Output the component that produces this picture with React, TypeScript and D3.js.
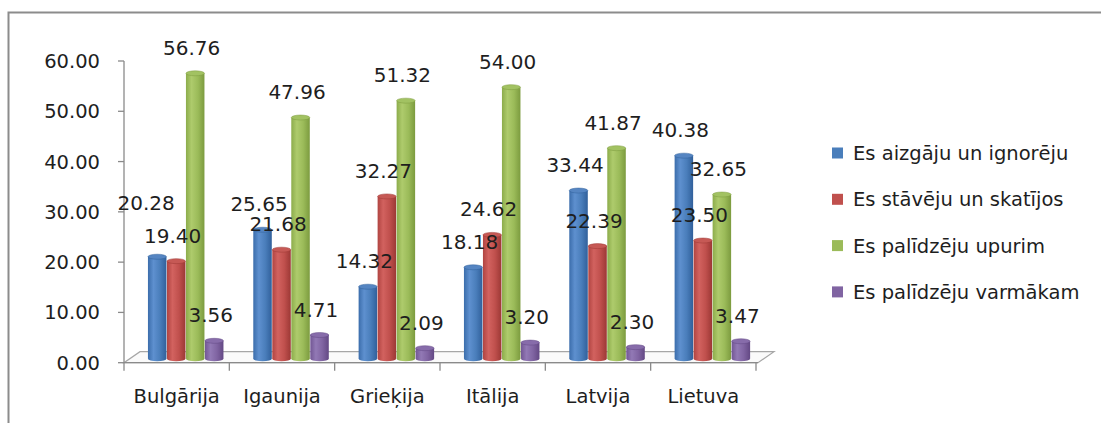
import React from "react";
import * as d3 from "d3";

const categories = ["Bulgārija", "Igaunija", "Grieķija", "Itālija", "Latvija", "Lietuva"];
const seriesNames = [
  "Es aizgāju un ignorēju",
  "Es stāvēju un skatījos",
  "Es palīdzēju upurim",
  "Es palīdzēju varmākam",
];
const aizgaju = [20.28, 25.65, 14.32, 18.18, 33.44, 40.38];
const staveju = [19.4, 21.68, 32.27, 24.62, 22.39, 23.5];
const palidzejuUpurim = [56.76, 47.96, 51.32, 54.0, 41.87, 32.65];
const palidzejuVarmakam = [3.56, 4.71, 2.09, 3.2, 2.3, 3.47];
const yTicks = [0, 10, 20, 30, 40, 50, 60];

const seriesValues = [aizgaju, staveju, palidzejuUpurim, palidzejuVarmakam];
const colors = [
  { base: "#4a7ebb", edge: "#3b6dab", dark: "#31609b", light: "#5e90cf", top: "#5585c2" },
  { base: "#c0504d", edge: "#b04441", dark: "#9c3835", light: "#d2625f", top: "#c65955" },
  { base: "#9bbb59", edge: "#8cac4b", dark: "#7c9b3f", light: "#aecb6c", top: "#a2c262" },
  { base: "#8064a2", edge: "#725694", dark: "#634884", light: "#9279b5", top: "#876caa" },
];

// manual label nudges (label was moved by hand in the original)
const labelNudge: Record<string, [number, number]> = { "0-0": [-7.5, -28] };

const FONT = "'DejaVu Sans', sans-serif";

export default function App() {
  const W = 1101;
  const H = 423;
  const x0 = d3.scaleBand<string>().domain(categories).range([124, 756]).padding(0);
  const x1 = d3
    .scaleBand<string>()
    .domain(seriesNames)
    .range([23.7, 23.7 + 76])
    .padding(0);
  const y = d3.scaleLinear().domain([0, 60]).range([362.7, 61]);
  const fmt = d3.format(".2f");
  const depthY = -4;
  const ry = 2.5;
  const barW = 18.5;
  const floorDx = 16;
  const floorDy = -11;
  const y0 = y(0);
  const xL = x0.range()[0];
  const xR = x0.range()[1];
  const axisColor = "#8a8a8a";
  const textColor = "#1e1e1e";

  return (
    <svg
      width={W}
      height={H}
      style={{ position: "absolute", left: 0, top: 0, background: "#fff" }}
      fontFamily={FONT}
    >
      <defs>
        {colors.map((c, i) => (
          <linearGradient key={i} id={`g${i}`} x1="0" x2="1" y1="0" y2="0">
            <stop offset="0%" stopColor={c.edge} />
            <stop offset="30%" stopColor={c.light} />
            <stop offset="65%" stopColor={c.base} />
            <stop offset="100%" stopColor={c.dark} />
          </linearGradient>
        ))}
      </defs>
      <rect x={0} y={0} width={W} height={H} fill="#fff" />
      <rect
        x={8.5}
        y={12.5}
        width={W + 10}
        height={H + 10}
        fill="none"
        stroke="#8c8c8c"
        strokeWidth={2}
      />

      {/* floor */}
      <polygon
        points={`${xL},${y0} ${xR + 2},${y0} ${xR + 2 + floorDx},${y0 + floorDy} ${xL + floorDx},${y0 + floorDy}`}
        fill="#fafafa"
        stroke="#a6a6a6"
        strokeWidth={1.2}
      />

      {/* y axis */}
      <line x1={xL} x2={xL} y1={y(60)} y2={y0} stroke={axisColor} strokeWidth={1.3} />
      {yTicks.map((t) => (
        <g key={t}>
          <line x1={xL - 6} x2={xL} y1={y(t)} y2={y(t)} stroke={axisColor} strokeWidth={1.3} />
          <text
            x={100}
            y={y(t)}
            dy="0.36em"
            textAnchor="end"
            fontSize={19.5}
            fill={textColor}
          >
            {fmt(t)}
          </text>
        </g>
      ))}

      {/* x axis */}
      <line x1={xL} x2={xR + 2} y1={y0} y2={y0} stroke={axisColor} strokeWidth={1.3} />
      {[...categories.map((c) => x0(c) as number), xR].map((xx, i) => (
        <line key={i} x1={xx} x2={xx} y1={y0} y2={y0 + 8} stroke={axisColor} strokeWidth={1.3} />
      ))}
      {categories.map((c) => (
        <text
          key={c}
          x={(x0(c) as number) + x0.bandwidth() / 2}
          y={403}
          textAnchor="middle"
          fontSize={19.5}
          fill={textColor}
        >
          {c}
        </text>
      ))}

      {/* bars */}
      {categories.map((c, ci) =>
        seriesNames.map((s, si) => {
          const v = seriesValues[si][ci];
          const cx = (x0(c) as number) + (x1(s) as number) + x1.bandwidth() / 2;
          const yt = y(v) + depthY;
          const yb = y0 + depthY;
          const col = colors[si];
          return (
            <g key={`${ci}-${si}`}>
              <ellipse cx={cx} cy={yb} rx={barW / 2} ry={ry} fill={`url(#g${si})`} />
              <rect x={cx - barW / 2} y={yt} width={barW} height={yb - yt} fill={`url(#g${si})`} />
              <ellipse
                cx={cx}
                cy={yt}
                rx={barW / 2}
                ry={ry}
                fill={col.top}
                stroke={col.dark}
                strokeWidth={0.5}
              />
            </g>
          );
        })
      )}

      {/* value labels */}
      {categories.map((c, ci) =>
        seriesNames.map((s, si) => {
          const v = seriesValues[si][ci];
          const cx = (x0(c) as number) + (x1(s) as number) + x1.bandwidth() / 2;
          const n = labelNudge[`${ci}-${si}`] || [0, 0];
          return (
            <text
              key={`l${ci}-${si}`}
              x={cx - 3.5 + n[0]}
              y={y(v) - 22.5 + n[1]}
              textAnchor="middle"
              fontSize={20}
              fill={textColor}
            >
              {fmt(v)}
            </text>
          );
        })
      )}

      {/* legend */}
      {seriesNames.map((s, i) => {
        const cy = 153 + i * 46.3;
        return (
          <g key={s}>
            <rect x={832} y={cy - 5.5} width={11} height={11} fill={colors[i].base} />
            <text x={853} y={cy} dy="0.36em" fontSize={19.5} fill={textColor}>
              {s}
            </text>
          </g>
        );
      })}
    </svg>
  );
}
